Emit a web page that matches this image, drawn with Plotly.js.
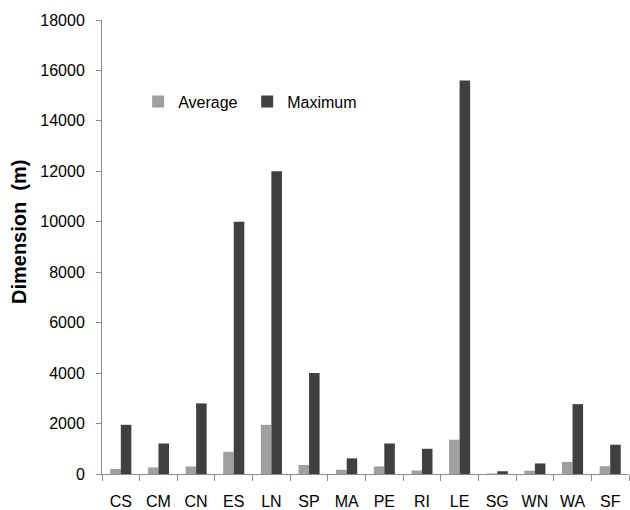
<!DOCTYPE html>
<html>
<head>
<meta charset="utf-8">
<script src="https://cdn.plot.ly/plotly-3.0.1.min.js"></script>
<style>html,body{margin:0;padding:0;background:#fff;}#chart{width:630px;height:510px;}</style>
</head>
<body>
<div id="chart"></div>
<script>
const categories = ["CS","CM","CN","ES","LN","SP","MA","PE","RI","LE","SG","WN","WA","SF"];
const averageValues = [200, 260, 300, 880, 1950, 360, 170, 300, 140, 1360, 20, 130, 480, 310];
const maximumValues = [1950, 1210, 2800, 10000, 12000, 4000, 620, 1210, 1000, 15600, 110, 420, 2770, 1160];
const yTickValues = [0, 2000, 4000, 6000, 8000, 10000, 12000, 14000, 16000, 18000];

const fontFam = "Liberation Sans, Arial, sans-serif";
const data = [
  {type: "bar", name: "Average", x: categories, y: averageValues, marker: {color: "#a0a0a0", line: {width: 0}}},
  {type: "bar", name: "Maximum", x: categories, y: maximumValues, marker: {color: "#404040", line: {width: 0}}}
];
const layout = {
  width: 630, height: 510,
  margin: {l: 102, r: 1, t: 20, b: 36},
  paper_bgcolor: "#fff", plot_bgcolor: "#fff",
  font: {family: fontFam, size: 16, color: "#000"},
  barmode: "group", bargap: 0.44, bargroupgap: 0,
  showlegend: true,
  legend: {orientation: "h", x: 0.0686, y: 0.82, xanchor: "left", yanchor: "middle",
           font: {family: fontFam, size: 16, color: "#000"}, bgcolor: "rgba(0,0,0,0)",
           traceorder: "normal", entrywidth: 64, entrywidthmode: "pixels"},
  xaxis: {type: "category", showline: true, linecolor: "#8c8c8c", linewidth: 1,
          ticks: "outside", tickson: "boundaries", ticklen: 6, tickcolor: "#8c8c8c",
          showgrid: false, zeroline: false, ticklabelstandoff: 13,
          tickfont: {family: fontFam, size: 16, color: "#000"}},
  yaxis: {range: [0, 18000], tickvals: yTickValues, ticktext: yTickValues.map(String),
          showline: true, linecolor: "#8c8c8c", linewidth: 1,
          ticks: "outside", ticklen: 5, tickcolor: "#8c8c8c",
          showgrid: false, zeroline: false, ticklabelstandoff: 8,
          tickfont: {family: fontFam, size: 16, color: "#000"}},
  annotations: [
    {text: "Dimension  (m)", xref: "paper", yref: "paper", x: -0.1575, y: 0.533,
     xanchor: "center", yanchor: "middle", textangle: -90, showarrow: false,
     font: {family: fontFam, size: 20, color: "#000", weight: "bold"}}
  ]
};
Plotly.newPlot("chart", data, layout, {displayModeBar: false, staticPlot: true});
</script>
</body>
</html>
